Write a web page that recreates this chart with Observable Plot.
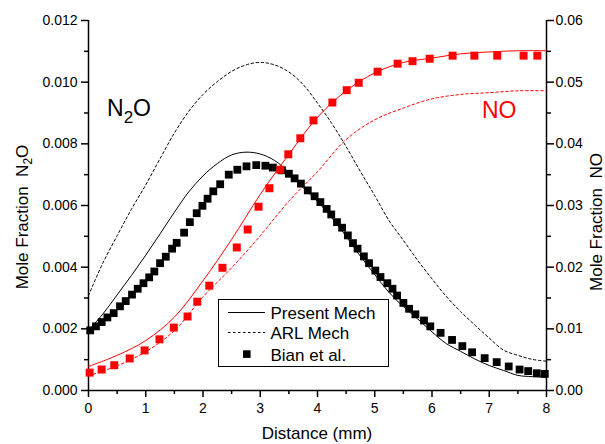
<!DOCTYPE html>
<html><head><meta charset="utf-8">
<script src="https://cdn.jsdelivr.net/npm/d3@7"></script>
<script src="https://cdn.jsdelivr.net/npm/@observablehq/plot@0.6"></script>
<style>
body{margin:0;background:#fff}
svg text{white-space:pre}
</style>
</head><body><div id="chart"></div>
<script>
// ---------- data ----------
// Simulation grids (mm)
const gridX25 = [0,0.25,0.5,0.75,1,1.25,1.5,1.75,2,2.25,2.5,2.75,3,3.25,3.5,3.75,4,4.25,4.5,4.75,5,5.25,5.5,5.75,6,6.25,6.5,6.75,7,7.25,7.5,7.75,8];
const gridX50 = [0,0.5,1,1.5,2,2.5,3,3.5,4,4.5,5,5.5,6,6.5,7,7.5,8];

// N2O mole fraction (left axis)
const presentN2O = [0.00195,0.00248,0.00310,0.00373,0.00439,0.00508,0.00578,0.00644,0.00696,0.00736,0.00764,0.00773,0.00767,0.00746,0.00707,0.00657,0.00613,0.00560,0.00500,0.00435,0.00376,0.00318,0.00272,0.00232,0.00190,0.00152,0.00127,0.00102,0.00081,0.00065,0.00049,0.00045,0.00043];
const arlN2O = [0.00308,0.00413,0.00502,0.00588,0.00667,0.00752,0.00835,0.00905,0.00960,0.01002,0.01035,0.01056,0.01064,0.01056,0.01033,0.00992,0.00932,0.00866,0.00791,0.00710,0.00632,0.00551,0.00487,0.00422,0.00362,0.00305,0.00256,0.00212,0.00170,0.00131,0.00114,0.00101,0.00095];

// NO mole fraction (right axis)
const presentNO = [0.0039,0.0057,0.0081,0.0119,0.0178,0.0245,0.0318,0.0383,0.0443,0.0486,0.0515,0.0532,0.0539,0.0546,0.0549,0.0551,0.0551];
const arlNO = [0.0024,0.0040,0.0063,0.0097,0.0152,0.0199,0.0251,0.0307,0.0355,0.0407,0.0439,0.0458,0.0473,0.0480,0.0483,0.0486,0.0486];

// Bian et al. measurements
const bianN2OX = [0.03,0.13,0.23,0.33,0.44,0.55,0.65,0.76,0.86,0.96,1.06,1.15,1.25,1.35,1.46,1.54,1.67,1.77,1.89,1.99,2.08,2.18,2.30,2.45,2.60,2.76,2.93,3.09,3.22,3.38,3.50,3.60,3.71,3.83,3.95,4.05,4.16,4.24,4.34,4.43,4.53,4.62,4.70,4.81,4.90,5.01,5.10,5.22,5.31,5.39,5.50,5.60,5.71,5.86,5.97,6.15,6.35,6.53,6.70,6.92,7.13,7.34,7.53,7.68,7.83,7.97];
const bianN2O = [0.00195,0.00208,0.00222,0.00237,0.00251,0.00273,0.00290,0.00311,0.00330,0.00348,0.00367,0.00386,0.00413,0.00434,0.00460,0.00479,0.00512,0.00546,0.00575,0.00599,0.00622,0.00646,0.00669,0.00700,0.00716,0.00727,0.00731,0.00729,0.00723,0.00714,0.00703,0.00688,0.00671,0.00649,0.00630,0.00611,0.00589,0.00571,0.00546,0.00528,0.00503,0.00478,0.00460,0.00435,0.00413,0.00389,0.00368,0.00348,0.00330,0.00308,0.00284,0.00265,0.00247,0.00227,0.00208,0.00187,0.00164,0.00144,0.00124,0.00105,0.00092,0.00078,0.00068,0.00063,0.00056,0.00054];
const bianNOX = [0.02,0.23,0.45,0.72,0.98,1.24,1.49,1.73,1.90,2.11,2.34,2.59,2.78,2.97,3.16,3.35,3.49,3.70,3.93,4.26,4.51,4.72,5.05,5.40,5.66,5.96,6.36,6.74,7.14,7.60,7.84];
const bianNO = [0.0029,0.0034,0.0041,0.0052,0.0065,0.0083,0.0102,0.0120,0.0144,0.0170,0.0199,0.0232,0.0261,0.0298,0.0328,0.0358,0.0383,0.0409,0.0438,0.0467,0.0487,0.0499,0.0517,0.0530,0.0534,0.0538,0.0543,0.0543,0.0543,0.0543,0.0543];

// Tick values
const xTicks = [0,1,2,3,4,5,6,7,8];
const xMinor = [0.5,1.5,2.5,3.5,4.5,5.5,6.5,7.5];
const n2oTicks = [0,0.002,0.004,0.006,0.008,0.010,0.012];
const n2oMinor = [0.001,0.003,0.005,0.007,0.009,0.011];
const noTicks = [0,0.01,0.02,0.03,0.04,0.05,0.06];
const noMinor = [0.005,0.015,0.025,0.035,0.045,0.055];

const legendItems = ["Present Mech","ARL Mech","Bian et al."];

// ---------- chart ----------
const FONT = "'Liberation Sans', Arial, Helvetica, sans-serif";
const K = 0.2; // right axis (0–0.06) onto left axis (0–0.012)
const RED = "#ff0000";

const toRows = (xs, ys) => xs.map((x, i) => ({x, y: ys[i]}));

const chart = Plot.plot({
  width: 605, height: 444,
  marginLeft: 88, marginRight: 59, marginTop: 20, marginBottom: 54,
  style: {fontFamily: FONT, fontSize: "14px", color: "#000", background: "#fff", overflow: "visible"},
  x: {domain: [0, 8]},
  y: {domain: [0, 0.012]},
  marks: [
    Plot.axisX(xTicks, {tickSize: 7, tickPadding: 6, tickFormat: d => String(d), label: null, fontSize: 14, strokeWidth: 1.5}),
    Plot.axisX(xMinor, {tickSize: 4, tickFormat: () => "", label: null, strokeWidth: 1.5}),
    Plot.axisY(n2oTicks, {anchor: "left", tickSize: 7, tickPadding: 4, tickFormat: d3.format(".3f"), label: null, fontSize: 14, strokeWidth: 1.5}),
    Plot.axisY(n2oMinor, {anchor: "left", tickSize: 4, tickFormat: () => "", label: null, strokeWidth: 1.5}),
    Plot.axisY(noTicks.map(v => v * K), {anchor: "right", tickSize: 7, tickPadding: 2, tickFormat: d => (d / K).toFixed(2), label: null, fontSize: 14, strokeWidth: 1.5}),
    Plot.axisY(noMinor.map(v => v * K), {anchor: "right", tickSize: 4, tickFormat: () => "", label: null, strokeWidth: 1.5}),
    Plot.ruleX([0, 8], {stroke: "#000", strokeWidth: 1.5}),
    Plot.ruleY([0], {stroke: "#000", strokeWidth: 1.5}),

    Plot.line(toRows(gridX25, arlN2O), {x: "x", y: "y", stroke: "#000", strokeWidth: 1, strokeDasharray: "2.5,2.5", curve: "catmull-rom"}),
    Plot.line(toRows(gridX50, arlNO), {x: "x", y: d => d.y * K, stroke: RED, strokeWidth: 1, strokeDasharray: "2.5,2.5", curve: "catmull-rom"}),
    Plot.line(toRows(gridX25, presentN2O), {x: "x", y: "y", stroke: "#000", strokeWidth: 1, curve: "catmull-rom"}),
    Plot.line(toRows(gridX50, presentNO), {x: "x", y: d => d.y * K, stroke: RED, strokeWidth: 1, curve: "catmull-rom"}),

    Plot.dot(toRows(bianN2OX, bianN2O), {x: "x", y: "y", symbol: "square", r: 4.4, fill: "#000", stroke: null}),
    Plot.dot(toRows(bianNOX, bianNO), {x: "x", y: d => d.y * K, symbol: "square", r: 4.5, fill: RED, stroke: null})
  ]
});
document.getElementById("chart").appendChild(chart);

// ---------- decorations: titles, annotations, legend ----------
const svg = d3.select(chart);
const g = svg.append("g").attr("font-family", FONT).attr("fill", "#000").attr("text-anchor", "start");

g.append("text").attr("x", 317).attr("y", 439).attr("text-anchor", "middle")
  .attr("font-size", 17).text("Distance (mm)");

const lt = g.append("text").attr("transform", "translate(28,217) rotate(-90)")
  .attr("text-anchor", "middle").attr("font-size", 17);
lt.append("tspan").text("Mole Fraction  N");
lt.append("tspan").attr("font-size", 12).attr("dy", 4).text("2");
lt.append("tspan").attr("dy", -4).text("O");

g.append("text").attr("transform", "translate(602,222) rotate(-90)")
  .attr("text-anchor", "middle").attr("font-size", 17).text("Mole Fraction  NO");

const an = g.append("text").attr("x", 107).attr("y", 116).attr("font-size", 23);
an.append("tspan").text("N");
an.append("tspan").attr("font-size", 17).attr("dy", 7).text("2");
an.append("tspan").attr("dy", -7).text("O");

g.append("text").attr("x", 482).attr("y", 118).attr("font-size", 23)
  .attr("fill", RED).text("NO");

// legend
const lg = g.append("g");
lg.append("rect").attr("x", 218.5).attr("y", 299.5).attr("width", 170).attr("height", 67)
  .attr("fill", "#fff").attr("stroke", "#000").attr("stroke-width", 1);
lg.append("line").attr("x1", 228).attr("x2", 265).attr("y1", 312.5).attr("y2", 312.5)
  .attr("stroke", "#000").attr("stroke-width", 1);
lg.append("line").attr("x1", 228).attr("x2", 265).attr("y1", 332.5).attr("y2", 332.5)
  .attr("stroke", "#000").attr("stroke-width", 1).attr("stroke-dasharray", "2.5,2.5");
lg.append("rect").attr("x", 243).attr("y", 350.3).attr("width", 7.6).attr("height", 7.6).attr("fill", "#000");
const ly = [319, 338.5, 360.5];
legendItems.forEach((t, i) => {
  lg.append("text").attr("x", 270.5).attr("y", ly[i]).attr("font-size", 17).text(t);
});
</script>
</body></html>
